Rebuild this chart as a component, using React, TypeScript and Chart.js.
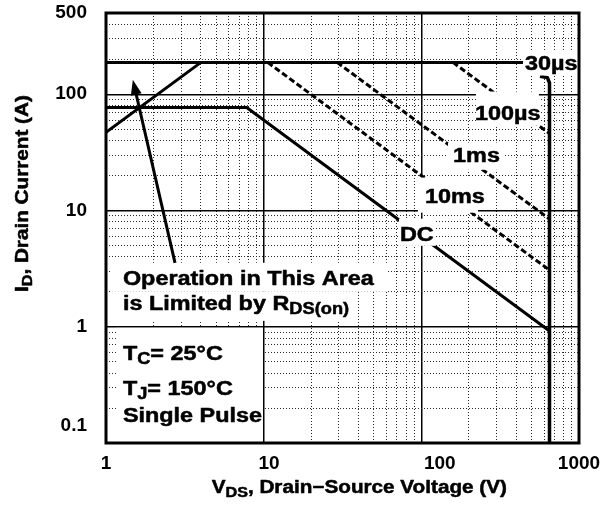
import React, { useEffect, useRef } from 'react';
import { Chart, registerables } from 'chart.js';

Chart.register(...registerables);

const CANVAS_W = 611;
const CANVAS_H = 506;
const FONT = '"Liberation Sans", Arial, Helvetica, sans-serif';

// ---------- data (V_DS in volts, I_D in amps) ----------
const rdsLimitV = [1, 4];
const rdsLimitI = [47, 188];
const pulseLimitV = [1, 1000];
const pulseLimitI = [188, 188];
const pulse100usV = [158.6, 650];
const pulse100usI = [188, 45.9];
const pulse1msV = [29.2, 650];
const pulse1msI = [188, 8.45];
const pulse10msV = [10.6, 650];
const pulse10msI = [188, 3.07];
const dcV = [1, 7.8, 650];
const dcI = [77, 77, 0.92];
const bvdssV = [566, 630, 650, 650];
const bvdssI = [143, 139, 125, 0.1];

const xMin = 1;
const xMax = 1000;
const yMin = 0.1;
const yMax = 500;
const xTickValues = [1, 10, 100, 1000];
const xTickLabels = ['1', '10', '100', '1000'];
const yTickValues = [0.1, 1, 10, 100, 500];
const yTickLabels = ['0.1', '1', '10', '100', '500'];
const gridMultipliers = [1, 2, 3, 4, 5, 6, 7, 8, 9];

// ---------- annotation layout (data coordinates) ----------
type Part = [string, number?];
const ANNOTATIONS: { at: [number, number]; parts: Part[] }[] = [
  { at: [454, 163], parts: [['30µs']] },
  { at: [219, 60.5], parts: [['100µs']] },
  { at: [159, 25.9], parts: [['1ms']] },
  { at: [105.5, 11.7], parts: [['10ms']] },
  { at: [73.2, 5.42], parts: [['DC']] },
  { at: [1.28, 2.3], parts: [['Operation in This Area']] },
  { at: [1.28, 1.4], parts: [['is Limited by R'], ['DS(on)', 1]] },
  { at: [1.28, 0.519], parts: [['T'], ['C', 1], ['= 25°C']] },
  { at: [1.28, 0.259], parts: [['T'], ['J', 1], ['= 150°C']] },
  { at: [1.28, 0.1526], parts: [['Single Pulse']] },
];
// white label backgrounds [v1, i1, v2, i2]
const LABEL_BOXES: number[][] = [
  [441.6, 233, 1000, 145],
  [222, 105.5, 557, 53.7],
  [147.6, 38.4, 339, 22.4],
  [95.2, 19.2, 228.7, 9.57],
  [72.2, 8.5, 123.9, 4.97],
  [1.06, 3.55, 61.4, 2.0],
  [1.06, 2.0, 36.3, 1.124],
  [1.157, 0.978, 9.9, 0.1],
];
const ARROW_FROM: [number, number] = [2.74, 3.55];
const ARROW_TO: [number, number] = [1.48, 133];

const pts = (xs: number[], ys: number[]) => xs.map((x, i) => ({ x, y: ys[i] }));

const isMajor = (v: number) => {
  const l = Math.log10(v);
  return Math.abs(l - Math.round(l)) < 1e-6;
};

const logGrid = (min: number, max: number) => {
  const out: number[] = [];
  for (let e = -2; e <= 4; e++) {
    for (const m of gridMultipliers) {
      const v = +(m * Math.pow(10, e)).toPrecision(8);
      if (v >= min * 0.999999 && v <= max * 1.000001) out.push(v);
    }
  }
  return out;
};

const findIdx = (vals: number[], value: number) =>
  vals.findIndex((v) => Math.abs(Math.log10(v) - Math.log10(value)) < 1e-6);

function drawRich(
  ctx: CanvasRenderingContext2D,
  x: number,
  y: number,
  parts: Part[],
  size: number,
  sx: number,
  rotate = false
) {
  ctx.save();
  ctx.translate(x, y);
  if (rotate) ctx.rotate(-Math.PI / 2);
  ctx.scale(sx, 1);
  ctx.fillStyle = '#000';
  ctx.strokeStyle = '#000';
  ctx.lineWidth = 0.5;
  ctx.lineJoin = 'round';
  ctx.textAlign = 'left';
  ctx.textBaseline = 'alphabetic';
  let cx = 0;
  for (const [t, sub] of parts) {
    const s = sub ? size * 0.78 : size;
    const dy = sub ? size * 0.21 : 0;
    ctx.font = `bold ${s}px ${FONT}`;
    ctx.fillText(t, cx, dy);
    ctx.strokeText(t, cx, dy);
    cx += ctx.measureText(t).width;
  }
  ctx.restore();
}

const overlayPlugin = {
  id: 'soaOverlay',
  afterDatasetsDraw(chart: any) {
    const ctx: CanvasRenderingContext2D = chart.ctx;
    const xs = chart.scales.x;
    const ys = chart.scales.y;
    const X = (v: number) => xs.getPixelForValue(v);
    const Y = (v: number) => ys.getPixelForValue(v);
    const a = chart.chartArea;

    ctx.save();
    // label backgrounds
    ctx.fillStyle = '#fff';
    for (const [v1, i1, v2, i2] of LABEL_BOXES) {
      const x1 = X(v1), x2 = X(v2), y1 = Y(i1), y2 = Y(i2);
      ctx.fillRect(Math.min(x1, x2), Math.min(y1, y2), Math.abs(x2 - x1), Math.abs(y2 - y1));
    }

    // arrow
    const tx = X(ARROW_TO[0]), ty = Y(ARROW_TO[1]);
    const fx = X(ARROW_FROM[0]), fy = Y(ARROW_FROM[1]);
    const ang = Math.atan2(ty - fy, tx - fx);
    const headLen = 15, headW = 5.5;
    const bx = tx - Math.cos(ang) * headLen, by = ty - Math.sin(ang) * headLen;
    ctx.strokeStyle = '#000';
    ctx.lineWidth = 3;
    ctx.beginPath();
    ctx.moveTo(fx, fy);
    ctx.lineTo(bx + Math.cos(ang) * 2, by + Math.sin(ang) * 2);
    ctx.stroke();
    ctx.fillStyle = '#000';
    ctx.beginPath();
    ctx.moveTo(tx, ty);
    ctx.lineTo(bx - Math.sin(ang) * headW, by + Math.cos(ang) * headW);
    ctx.lineTo(bx + Math.sin(ang) * headW, by - Math.cos(ang) * headW);
    ctx.closePath();
    ctx.fill();

    // annotation texts
    for (const an of ANNOTATIONS) {
      drawRich(ctx, X(an.at[0]), Y(an.at[1]), an.parts, 20, 1.17);
    }

    // plot frame
    ctx.strokeStyle = '#000';
    ctx.lineWidth = 3;
    ctx.strokeRect(a.left, a.top, a.right - a.left, a.bottom - a.top);

    // axis titles
    drawRich(ctx, 211.7, 493.3, [['V'], ['DS', 1], [', Drain\u2212Source Voltage (V)']], 18, 1.15);
    drawRich(ctx, 28, 292, [['I'], ['D', 1], [', Drain Current (A)']], 18, 1.15, true);
    ctx.restore();
  },
};

const xLabelPad = [0, 2, 7, 0];

export default function App() {
  const ref = useRef<HTMLCanvasElement | null>(null);

  useEffect(() => {
    if (!ref.current) return;
    const solid = {
      borderColor: '#000',
      backgroundColor: '#000',
      borderWidth: 3,
      pointRadius: 0,
      pointHoverRadius: 0,
      showLine: true,
      fill: false,
      borderCapStyle: 'butt' as const,
      borderJoinStyle: 'round' as const,
      tension: 0,
    };
    const dashed = { ...solid, borderDash: [6, 3] };

    const gridColor = (c: any) => (c.tick && !isMajor(c.tick.value) ? '#2a2a2a' : '#000');
    const gridWidth = (c: any) => (c.tick && !isMajor(c.tick.value) ? 1 : 1.5);
    const gridDash = (c: any) => (c.tick && !isMajor(c.tick.value) ? [1, 2] : []);
    const tickFont = (c: any) => ({
      family: FONT,
      size: 19,
      weight: 'bold' as const,
      lineHeight: c.tick && Math.abs(c.tick.value - 0.1) < 1e-9 ? 1.85 : 1.2,
    });

    const chart = new Chart(ref.current, {
      type: 'scatter',
      data: {
        datasets: [
          { label: 'RDS(on) limit', data: pts(rdsLimitV, rdsLimitI), ...solid },
          { label: '30µs', data: pts(pulseLimitV, pulseLimitI), ...solid },
          { label: '100µs', data: pts(pulse100usV, pulse100usI), ...dashed },
          { label: '1ms', data: pts(pulse1msV, pulse1msI), ...dashed },
          { label: '10ms', data: pts(pulse10msV, pulse10msI), ...dashed },
          { label: 'DC', data: pts(dcV, dcI), ...solid },
          { label: 'VDSS limit', data: pts(bvdssV, bvdssI), ...solid, borderWidth: 3.5 },
        ],
      },
      options: {
        responsive: false,
        animation: false,
        devicePixelRatio: 1,
        events: [],
        layout: { padding: { top: 13, right: 32, left: 0, bottom: 0 } },
        plugins: {
          legend: { display: false },
          tooltip: { enabled: false },
          title: { display: false },
        },
        scales: {
          x: {
            type: 'logarithmic',
            position: 'bottom',
            min: xMin,
            max: xMax,
            afterBuildTicks: (s: any) => {
              s.ticks = logGrid(xMin, xMax).map((v) => ({ value: v, major: isMajor(v) }));
            },
            afterFit: (s: any) => {
              s.height = CANVAS_H - 443;
              s.paddingLeft = 0;
              s.paddingRight = 0;
            },
            ticks: {
              autoSkip: false,
              maxRotation: 0,
              minRotation: 0,
              padding: 9,
              color: '#000',
              font: tickFont,
              callback: (value: any) => {
                const k = findIdx(xTickValues, Number(value));
                return k < 0 ? '' : ' '.repeat(xLabelPad[k]) + xTickLabels[k];
              },
            },
            grid: { drawTicks: false, color: gridColor, lineWidth: gridWidth },
            border: { display: false, dash: gridDash },
          },
          y: {
            type: 'logarithmic',
            position: 'left',
            min: yMin,
            max: yMax,
            afterBuildTicks: (s: any) => {
              s.ticks = logGrid(yMin, yMax).map((v) => ({ value: v, major: isMajor(v) }));
            },
            afterFit: (s: any) => {
              s.width = 106;
              s.paddingTop = 0;
              s.paddingBottom = 0;
            },
            ticks: {
              autoSkip: false,
              padding: 19,
              color: '#000',
              font: tickFont,
              callback: (value: any) => {
                const k = findIdx(yTickValues, Number(value));
                if (k < 0) return '';
                return k === 0 ? [yTickLabels[k], ''] : yTickLabels[k];
              },
            },
            grid: { drawTicks: false, color: gridColor, lineWidth: gridWidth },
            border: { display: false, dash: gridDash },
          },
        },
      } as any,
      plugins: [overlayPlugin],
    });
    return () => chart.destroy();
  }, []);

  return (
    <div style={{ position: 'fixed', left: 0, top: 0, width: CANVAS_W, height: CANVAS_H, background: '#fff' }}>
      <canvas ref={ref} width={CANVAS_W} height={CANVAS_H} style={{ display: 'block' }} />
    </div>
  );
}
